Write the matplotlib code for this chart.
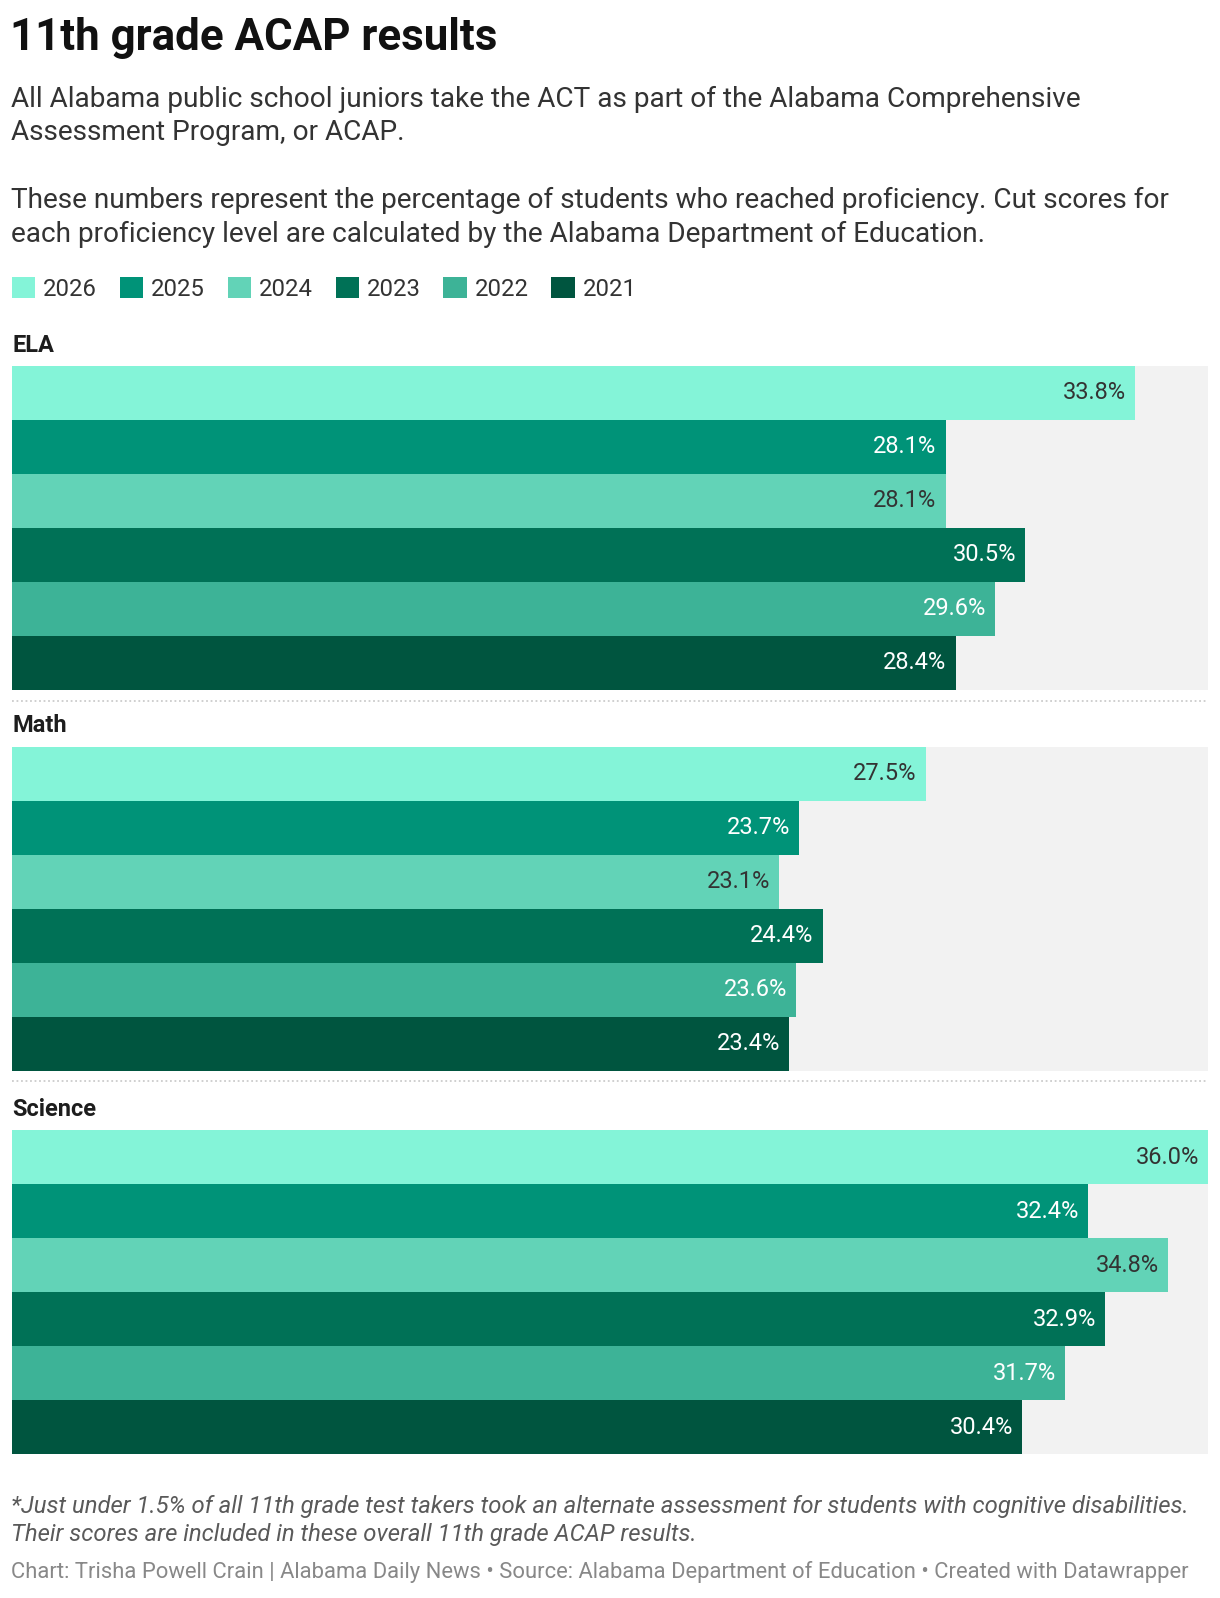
import matplotlib
matplotlib.use('Agg')
import matplotlib.pyplot as plt
from matplotlib.patches import Patch
from matplotlib.lines import Line2D

plt.rcParams['font.family'] = ['Roboto', 'DejaVu Sans']

years = ['2026', '2025', '2024', '2023', '2022', '2021']
colors = ['#84f4d8', '#009378', '#62d3b7', '#007156', '#3db397', '#00553f']
label_colors = ['#333333', 'white', '#333333', 'white', 'white', 'white']

subjects = ['ELA', 'Math', 'Science']
ela = [33.8, 28.1, 28.1, 30.5, 29.6, 28.4]
math = [27.5, 23.7, 23.1, 24.4, 23.6, 23.4]
science = [36.0, 32.4, 34.8, 32.9, 31.7, 30.4]
values = [ela, math, science]

W, H = 1220, 1598
fig = plt.figure(figsize=(W / 100, H / 100), dpi=100)


def fy(y):
    return 1 - y / H


def fx(x):
    return x / W


fig.text(fx(10), fy(38), '11th grade ACAP results', fontsize=31.6, fontweight='bold',
         color='#111111', va='center')
sub = ['All Alabama public school juniors take the ACT as part of the Alabama Comprehensive',
       'Assessment Program, or ACAP.',
       'These numbers represent the percentage of students who reached proficiency. Cut scores for',
       'each proficiency level are calculated by the Alabama Department of Education.']
for t, y in zip(sub, [99, 132, 200, 234]):
    fig.text(fx(11), fy(y), t, fontsize=20.2, color='#333333', va='center')

handles = [Patch(facecolor=c, edgecolor='none') for c in colors]
fig.legend(handles, years, ncol=6, loc='center left', bbox_to_anchor=(fx(12), fy(289)),
           frameon=False, fontsize=17.2, handlelength=0.97, handleheight=1.0,
           handletextpad=0.34, columnspacing=0.95, borderpad=0, borderaxespad=0,
           labelcolor='#333333')

tops = [366, 747, 1130]
bottom_h = 324
x0, x1 = 12, 1208
xmax = max(max(v) for v in values)

for subj, vals, top in zip(subjects, values, tops):
    fig.text(fx(12), fy(top - 21), subj, fontsize=17, fontweight='bold',
             color='#1d1d1d', va='center')
    ax = fig.add_axes([fx(x0), fy(top + bottom_h), fx(x1) - fx(x0), bottom_h / H])
    ax.set_facecolor('#f2f2f2')
    ax.barh(range(len(vals)), vals, height=1.0, color=colors)
    ax.set_xlim(0, xmax)
    ax.set_ylim(len(vals) - 0.5, -0.5)
    ax.set_xticks([])
    ax.set_yticks([])
    for s in ax.spines.values():
        s.set_visible(False)
    for i, v in enumerate(vals):
        ax.annotate(f'{v:.1f}%', (v, i), xytext=(-6.5, 0), textcoords='offset points',
                    ha='right', va='center', fontsize=17, color=label_colors[i])

for y in [701, 1081]:
    fig.add_artist(Line2D([fx(x0), fx(x1)], [fy(y), fy(y)], color='#cccccc',
                          linestyle=(0, (1, 1.5)), linewidth=1.3))

fig.text(fx(11), fy(1507), '*Just under 1.5% of all 11th grade test takers took an alternate assessment for students with cognitive disabilities.',
         fontsize=17.2, style='italic', color='#5a5a5a', va='center')
fig.text(fx(11), fy(1535), 'Their scores are included in these overall 11th grade ACAP results.',
         fontsize=17.2, style='italic', color='#5a5a5a', va='center')
fig.text(fx(11), fy(1572), 'Chart: Trisha Powell Crain | Alabama Daily News \u2022 Source: Alabama Department of Education \u2022 Created with Datawrapper',
         fontsize=15.8, color='#888888', va='center')

fig.savefig('out.png', dpi=100, facecolor='white')
